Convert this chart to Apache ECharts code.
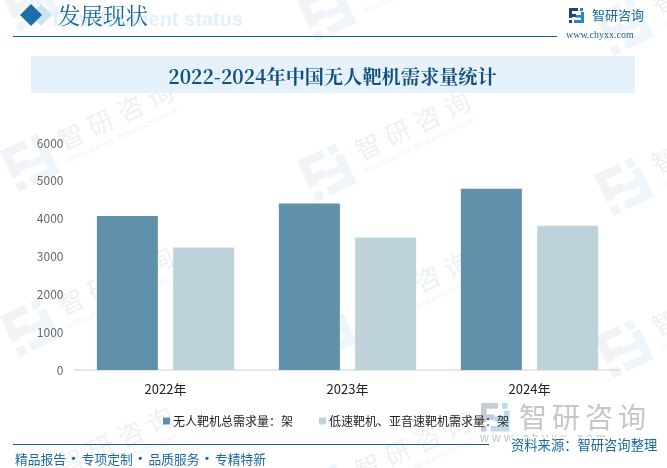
<!DOCTYPE html>
<html><head><meta charset="utf-8">
<style>html,body{margin:0;padding:0;background:#fff}#c{width:667px;height:468px}</style>
<script src="https://cdn.jsdelivr.net/npm/echarts@6/dist/echarts.min.js"></script>
</head><body><div id="c"></div>
<script>
const categories = ['2022年','2023年','2024年'];
const totalDemand = [4070,4400,4790];
const lowSubsonicDemand = [3240,3500,3810];
const seriesNames = ['无人靶机总需求量：架','低速靶机、亚音速靶机需求量：架'];
const chartTitle = '2022-2024年中国无人靶机需求量统计';
const brandChars = ['智','研','咨','询'];
const footerParts = ['精品报告','专项定制','品质服务','专精特新'];
const sansFont = '"Microsoft YaHei","Noto Sans CJK SC","Liberation Sans",sans-serif';
const serifFont = '"Noto Serif CJK SC","Liberation Serif","Noto Sans CJK SC",serif';
function logoRects(x,y,k,c1,c2,z){
  const r=(a,b,w,h,f)=>({type:'rect',z:z,silent:true,style:{fill:f},shape:{x:x+a*k,y:y+b*k,width:w*k,height:h*k}});
  return [r(0,0,9,3,c1),r(0,0,3,10,c1),r(0,6,7,3,c1),r(0,12,3,3,c1),
          r(11,0,3,3,c2),r(12,4,3,8,c2),r(5,12,10,3,c2),r(7,7,5,2.6,c2)];
}
function wm(x,y){
  const kids=logoRects(-22.5,-22.5,3,'#f1f3f7','#eef6fb',0);
  brandChars.forEach((ch,i)=>kids.push({type:'text',silent:true,z:0,style:{x:35+i*32.7,y:-5.5,text:ch,verticalAlign:'middle',font:'26px '+sansFont,fill:'#eff0f3'}}));
  kids.push({type:'text',silent:true,z:0,style:{x:34.5,y:16,text:'INTELLIGENCE RESEARCH GROUP',verticalAlign:'middle',font:'7.2px "Liberation Sans"',fill:'#f0f1f4'}});
  return {type:'group',x:x,y:y,rotation:0.44,silent:true,z:0,children:kids};
}
const graphics = [
  wm(30,2),wm(327,12),wm(624,26),wm(30,162),wm(327,172),wm(624,186),wm(30,327),wm(327,332),wm(624,348),wm(30,487),wm(327,492),wm(624,508),
  {type:'text',z:1,silent:true,style:{x:243,y:20,text:'Development status',align:'right',verticalAlign:'middle',font:'bold 20px "Liberation Sans"',fill:'#e3f0f9'}},
  {type:'polygon',z:2,silent:true,shape:{points:[[41,4],[52,15],[41,26],[30,15]]},style:{fill:'#cfe2ef'}},
  {type:'polygon',z:3,silent:true,shape:{points:[[31,4],[42,15],[31,26],[20,15]]},style:{fill:'#1a6fa8'}},
  {type:'text',z:3,silent:true,style:{x:58,y:15,text:'发展现状',verticalAlign:'middle',font:'22.5px '+serifFont,fill:'#1a6a9f'}},
  {type:'rect',z:3,silent:true,shape:{x:13,y:36,width:544,height:1},style:{fill:'#0f6295'}},
  {type:'rect',z:1,silent:true,shape:{x:31,y:56,width:604,height:37},style:{fill:'#e5f2fb'}},
  {type:'text',z:3,silent:true,style:{x:332.5,y:76.5,text:chartTitle,align:'center',verticalAlign:'middle',font:'bold 19.2px '+serifFont,fill:'#12517f'}},
  {type:'text',z:3,silent:true,style:{x:592,y:15,text:'智研咨询',verticalAlign:'middle',font:'13px '+sansFont,fill:'#1a6a9f'}},
  {type:'text',z:3,silent:true,style:{x:566,y:35,text:'www.chyxx.com',verticalAlign:'middle',font:'10px "Liberation Serif"',fill:'#1a5a8a'}},
  {type:'rect',z:3,silent:true,shape:{x:13,y:444,width:476,height:1},style:{fill:'#0f6295'}}
].concat(
  footerParts.map((t,i)=>({type:'text',z:3,silent:true,style:{x:15+i*66.7,y:459,text:t,verticalAlign:'middle',font:'12.75px '+sansFont,fill:'#1a6a9f'}})),
  [0,1,2].map(i=>({type:'text',z:3,silent:true,style:{x:73.5+i*66.7,y:458,text:'·',align:'center',verticalAlign:'middle',font:'bold 13px '+sansFont,fill:'#1a6a9f'}})),
  logoRects(569,8,1,'#27407f','#2a86c8',3),
  logoRects(481,403,1.9,'#c5cbd9','#bcd9ee',1),
  brandChars.map((ch,i)=>({type:'text',z:1,silent:true,style:{x:519+i*33,y:417.5,text:ch,verticalAlign:'middle',font:'28px '+sansFont,fill:'#c6c6c6'}})),
  [
    {type:'text',z:1,silent:true,style:{x:480,y:439,text:'w w w . c h y x x . c o m',verticalAlign:'middle',font:'12px "Liberation Sans"',fill:'#c4c4c4'}},
    {type:'rect',z:2,silent:true,shape:{x:510,y:437,width:150,height:16},style:{fill:'#fff'}},
    {type:'text',z:3,silent:true,style:{x:511,y:445,text:'资料来源：智研咨询整理',verticalAlign:'middle',font:'13.3px '+sansFont,fill:'#1a6a9f'}}
  ]
);
const chart = echarts.init(document.getElementById('c'));
chart.setOption({
  animation:false,
  backgroundColor:'#fff',
  graphic:graphics,
  grid:{left:74.5,right:46.5,top:143,bottom:98,containLabel:false},
  legend:{
    top:410,left:158,itemWidth:7,itemHeight:7,itemGap:26,icon:'rect',
    textStyle:{color:'#222',fontSize:12,fontFamily:sansFont,padding:[0,0,0,-2]},
    data:seriesNames
  },
  xAxis:{type:'category',data:categories,
    axisLine:{lineStyle:{color:'#dedede',width:1.5}},axisTick:{show:false},
    axisLabel:{color:'#222',fontSize:13,margin:13,fontFamily:sansFont}},
  yAxis:{type:'value',min:0,max:6000,interval:1000,
    axisLine:{show:false},axisTick:{show:false},splitLine:{show:false},
    axisLabel:{color:'#666',fontSize:12,margin:11,fontFamily:sansFont,formatter:v=>String(v)}},
  series:[
    {name:seriesNames[0],type:'bar',data:totalDemand,barWidth:61,barGap:'25%',itemStyle:{color:'#5f92aa'}},
    {name:seriesNames[1],type:'bar',data:lowSubsonicDemand,barWidth:61,itemStyle:{color:'#bed2db'}}
  ]
});
</script></body></html>
